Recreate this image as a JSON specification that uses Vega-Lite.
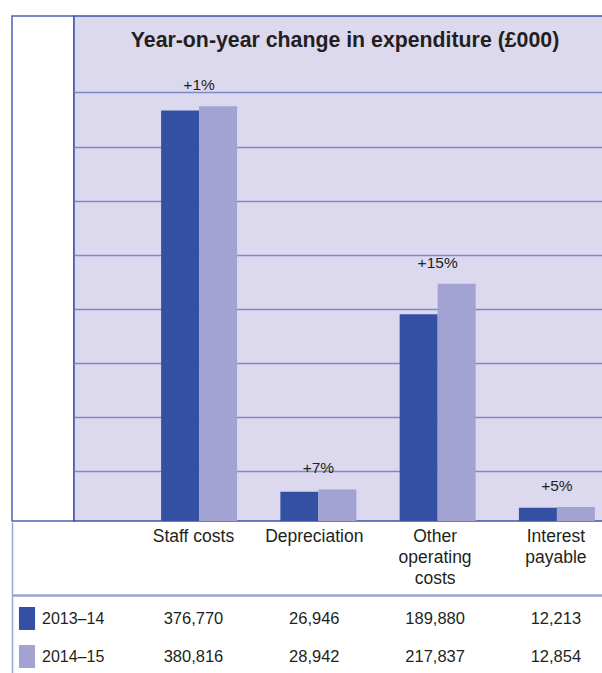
{
  "$schema": "https://vega.github.io/schema/vega-lite/v6.json",
  "padding": {"left": 11, "top": 15, "right": 0, "bottom": 0},
  "spacing": 0,
  "config": {
    "font": "Liberation Sans, Arial, sans-serif",
    "view": {"stroke": null},
    "concat": {"spacing": 0}
  },
  "datasets": {
    "costs": [
      {"category": "Staff costs", "label": "Staff costs", "year": "2013–14", "value": 376770, "change": "+1%"},
      {"category": "Staff costs", "label": "Staff costs", "year": "2014–15", "value": 380816, "change": "+1%"},
      {"category": "Depreciation", "label": "Depreciation", "year": "2013–14", "value": 26946, "change": "+7%"},
      {"category": "Depreciation", "label": "Depreciation", "year": "2014–15", "value": 28942, "change": "+7%"},
      {"category": "Other operating costs", "label": "Other\noperating\ncosts", "year": "2013–14", "value": 189880, "change": "+15%"},
      {"category": "Other operating costs", "label": "Other\noperating\ncosts", "year": "2014–15", "value": 217837, "change": "+15%"},
      {"category": "Interest payable", "label": "Interest\npayable", "year": "2013–14", "value": 12213, "change": "+5%"},
      {"category": "Interest payable", "label": "Interest\npayable", "year": "2014–15", "value": 12854, "change": "+5%"}
    ]
  },
  "vconcat": [
    {
      "hconcat": [
        {
          "width": 62,
          "height": 505,
          "view": {"stroke": "#4d62b5", "strokeWidth": 1.5},
          "data": {"values": [{}]},
          "mark": {"type": "text", "text": ""}
        },
        {
          "width": 529,
          "height": 505,
          "view": {"fill": "#dcd9ee", "stroke": "#3d55a8", "strokeWidth": 1.5},
          "title": {
            "text": "Year-on-year change in expenditure (£000)",
            "orient": "top",
            "anchor": "middle",
            "frame": "group",
            "offset": -52,
            "dx": 6.5,
            "baseline": "alphabetic",
            "fontSize": 21.3,
            "fontWeight": "bold",
            "color": "#231f20"
          },
          "data": {"name": "costs"},
          "layer": [
            {
              "mark": {"type": "bar"},
              "encoding": {
                "x": {
                  "field": "category",
                  "type": "nominal",
                  "sort": ["Staff costs", "Depreciation", "Other operating costs", "Interest payable"],
                  "scale": {"paddingInner": 0.363, "paddingOuter": 0.399, "align": 0.915},
                  "axis": null
                },
                "xOffset": {
                  "field": "year",
                  "type": "nominal",
                  "scale": {"paddingInner": 0, "paddingOuter": 0}
                },
                "y": {
                  "field": "value",
                  "type": "quantitative",
                  "scale": {"domain": [0, 463590], "nice": false},
                  "axis": {
                    "title": null,
                    "labels": false,
                    "ticks": false,
                    "domain": false,
                    "grid": true,
                    "gridColor": "#7d8ac8",
                    "gridWidth": 1.5,
                    "values": [45900, 95500, 145000, 194600, 244200, 293800, 343300, 393800]
                  }
                },
                "color": {
                  "field": "year",
                  "type": "nominal",
                  "scale": {"domain": ["2013–14", "2014–15"], "range": ["#3350a3", "#a2a3d3"]},
                  "legend": {
                    "orient": "none",
                    "legendX": 3.5,
                    "legendY": 591,
                    "title": null,
                    "direction": "vertical",
                    "symbolType": "M-0.7,-1H0.7V1H-0.7Z",
                    "symbolSize": 529,
                    "symbolStrokeWidth": 0,
                    "symbolOpacity": 1,
                    "labelFontSize": 16,
                    "labelColor": "#231f20",
                    "labelOffset": 3.5,
                    "rowPadding": 15
                  }
                }
              }
            },
            {
              "transform": [{"filter": "datum.year == '2014–15'"}],
              "mark": {"type": "text", "dy": -16, "baseline": "alphabetic", "fontSize": 15.5, "color": "#231f20"},
              "encoding": {
                "x": {"field": "category", "type": "nominal", "sort": ["Staff costs", "Depreciation", "Other operating costs", "Interest payable"]},
                "y": {"field": "value", "type": "quantitative"},
                "text": {"field": "change"}
              }
            }
          ]
        }
      ],
      "spacing": 0,
      "bounds": "flush"
    },
    {
      "width": 591,
      "height": 153,
      "data": {"name": "costs"},
      "encoding": {
        "x": {
          "field": "category",
          "type": "nominal",
          "sort": ["Staff costs", "Depreciation", "Other operating costs", "Interest payable"],
          "scale": {"type": "point", "padding": 0.946, "align": 0.794},
          "axis": {
            "orient": "bottom",
            "offset": -80,
            "title": null,
            "labels": false,
            "ticks": false,
            "grid": false,
            "domain": true,
            "domainColor": "#98a4d6",
            "domainWidth": 2.5
          }
        }
      },
      "layer": [
        {
          "transform": [{"filter": "datum.year == '2013–14'"}],
          "mark": {"type": "text", "fontSize": 17.5, "color": "#231f20", "baseline": "top", "lineBreak": "\n", "lineHeight": 21},
          "encoding": {
            "y": {
              "datum": "header",
              "type": "nominal",
              "scale": {"type": "point", "domain": ["header"], "align": 0.0392},
              "axis": {
                "orient": "left",
                "title": null,
                "labels": false,
                "ticks": false,
                "grid": false,
                "domain": true,
                "domainColor": "#98a4d6",
                "domainWidth": 1.5
              }
            },
            "text": {"field": "label"}
          }
        },
        {
          "mark": {"type": "text", "fontSize": 16.5, "color": "#231f20", "baseline": "middle"},
          "encoding": {
            "y": {
              "field": "year",
              "type": "nominal",
              "scale": {"type": "point", "domain": ["2013–14", "2014–15"], "range": [97, 135], "padding": 0},
              "axis": null
            },
            "text": {"field": "value", "type": "quantitative", "format": ",d"}
          }
        }
      ],
      "resolve": {"scale": {"y": "independent"}, "axis": {"y": "independent"}}
    }
  ]
}
